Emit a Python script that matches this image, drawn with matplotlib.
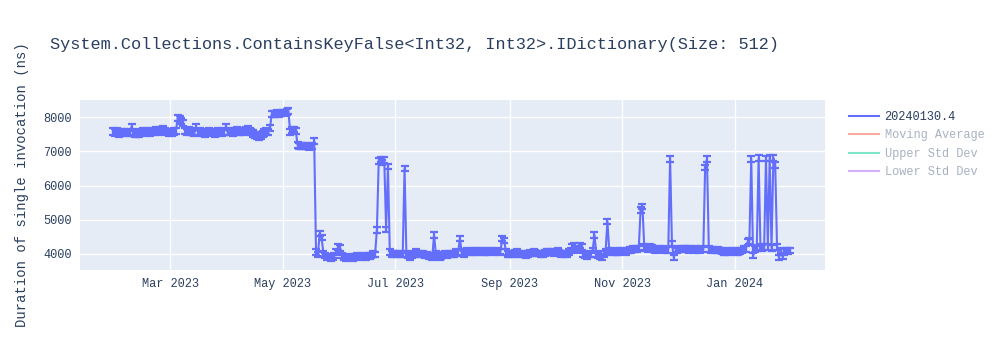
import matplotlib
matplotlib.use("Agg")
import matplotlib.pyplot as plt
import matplotlib.dates as mdates
from matplotlib.lines import Line2D
import numpy as np
import pandas as pd

# daily benchmark results (ns), one list per month
jan23 = [7580, 7550, 7600]  # starts Jan 29
feb23 = [7520, 7560, 7540, 7570, 7530, 7560, 7540, 7720, 7550, 7500,
         7520, 7510, 7560, 7580, 7540, 7600, 7570, 7550, 7600, 7580,
         7620, 7590, 7560, 7610, 7640, 7600, 7570, 7550]
mar23 = [7560, 7540, 7580, 7600, 7980, 7950, 7880, 7820, 7600, 7560,
         7620, 7560, 7580, 7540, 7700, 7560, 7580, 7530, 7550, 7520,
         7560, 7580, 7540, 7560, 7520, 7550, 7580, 7560, 7540, 7580, 7700]
apr23 = [7570, 7560, 7590, 7550, 7600, 7620, 7580, 7560, 7600, 7580,
         7620, 7640, 7600, 7560, 7520, 7480, 7450, 7420, 7460, 7500,
         7550, 7600, 7560, 7680, 8090, 8100, 8080, 8110, 8100, 8120]
may23 = [8130, 8110, 8150, 8180, 7560, 7620, 7640, 7600, 7180, 7160,
         7150, 7160, 7140, 7150, 7130, 7140, 7150, 7300, 4050, 3980,
         4600, 4480, 4020, 3950, 3900, 3920, 3880, 3900, 3950, 4050, 4200]
jun23 = [4180, 3950, 3900, 3880, 3900, 3920, 3900, 3880, 3920, 3940,
         3920, 3900, 3950, 3930, 3900, 3960, 3940, 3950, 4000, 3980,
         4700, 6720, 6760, 6680, 6740, 4720, 6550, 4050, 4000, 4020]
jul23 = [4000, 3980, 4020, 4000, 3980, 6500, 4000, 3950, 3900, 3950,
         4000, 4050, 4000, 3980, 4020, 4000, 3950, 3980, 3920, 3950,
         3900, 4550, 4000, 3950, 3900, 3920, 3980, 4000, 3950, 4000, 4020]
aug23 = [3980, 4000, 4050, 4030, 4450, 4050, 4000, 4050, 4080, 4060,
         4050, 4100, 4080, 4050, 4060, 4100, 4080, 4040, 4060, 4050,
         4080, 4100, 4070, 4060, 4080, 4050, 4070, 4450, 4400, 4050, 4000]
sep23 = [3980, 4020, 4000, 4030, 4050, 4000, 3980, 4020, 4000, 3970,
         4000, 4030, 4020, 4050, 4040, 4010, 4020, 4000, 3990, 4030,
         4050, 4060, 4040, 4050, 4030, 4050, 4080, 4040, 4000, 4020]
oct23 = [4000, 3980, 4050, 4100, 4200, 4250, 4150, 4100, 4250, 4200,
         4000, 3950, 3920, 3980, 4000, 4100, 4550, 4000, 3950, 3920,
         3900, 4000, 4050, 4950, 4100, 4050, 4080, 4060, 4050, 4060, 4080]
nov23 = [4100, 4070, 4050, 4100, 4120, 4100, 4150, 4130, 4150, 4160,
         5290, 5390, 4200, 4180, 4150, 4200, 4180, 4150, 4120, 4100,
         4150, 4130, 4140, 4100, 4120, 4120, 6780, 4300, 3900, 4100]
dec23 = [4120, 4150, 4130, 4160, 4150, 4140, 4120, 4150, 4130, 4120,
         4140, 4100, 4120, 4150, 4130, 6520, 6780, 4150, 4120, 4100,
         4130, 4100, 4110, 4100, 4080, 4060, 4050, 4080, 4060, 4070, 4080]
jan24 = [4100, 4060, 4050, 4080, 4100, 4150, 4150, 4350, 4380, 6780,
         3950, 4150, 4180, 6800, 4200, 4180, 4200, 6790, 4200, 6800,
         4180, 6800, 6600, 4200, 3900, 4100, 3920, 4050, 4100, 4080, 4100]

# (first day, values, std dev in ns)
months = [("2023-01-29", jan23, 90), ("2023-02-01", feb23, 90),
          ("2023-03-01", mar23, 90), ("2023-04-01", apr23, 90),
          ("2023-05-01", may23, 80), ("2023-06-01", jun23, 80),
          ("2023-07-01", jul23, 80), ("2023-08-01", aug23, 80),
          ("2023-09-01", sep23, 80), ("2023-10-01", oct23, 80),
          ("2023-11-01", nov23, 80), ("2023-12-01", dec23, 80),
          ("2024-01-01", jan24, 80)]

series_name = "20240130.4"
legend_names = [series_name, "Moving Average", "Upper Std Dev", "Lower Std Dev"]
title = "System.Collections.ContainsKeyFalse<Int32, Int32>.IDictionary(Size: 512)"

dates = []
values = []
errs = []
for start, vals, sd in months:
    dates.extend(pd.date_range(start, periods=len(vals), freq="D"))
    values.extend(vals)
    errs.extend([sd] * len(vals))

plt.rcParams['font.family'] = ['Liberation Mono', 'DejaVu Sans Mono']
txt = '#2a3f5f'

fig = plt.figure(figsize=(10, 3.5), dpi=100)
ax = fig.add_axes([0.08, 1 - 270 / 350, 0.745, 170 / 350])
ax.set_facecolor('#E5ECF6')
ax.grid(True, color='white', lw=1)
ax.set_axisbelow(True)
for s in ax.spines.values():
    s.set_visible(False)

blue = '#636efa'
ax.errorbar(dates, values, yerr=errs, color=blue, lw=1.5,
            elinewidth=1.6, capsize=2.9, capthick=1.6)

ax.set_xlim(pd.Timestamp("2023-01-11"), pd.Timestamp("2024-02-19"))
ax.set_ylim(3530, 8500)
ax.set_yticks([4000, 5000, 6000, 7000, 8000])
ax.xaxis.set_major_locator(mdates.MonthLocator(bymonth=[1, 3, 5, 7, 9, 11]))
ax.xaxis.set_major_formatter(mdates.DateFormatter('%b %Y'))
ax.tick_params(length=0, labelsize=8.6, labelcolor=txt, pad=6)

ax.set_ylabel("Duration of single invocation (ns)", fontsize=10, color=txt)
ax.yaxis.set_label_coords(-0.068, 0.5)

fig.text(0.05, 1 - 45 / 350, title, fontsize=12.2, color=txt, va='center')

# legend: only the first trace is visible, the others are hidden
faded = ['#f6ab9d', '#80e6ca', '#d5b1fc']
handles = [Line2D([], [], color=blue, lw=1.5)] + \
          [Line2D([], [], color=c, lw=1.5) for c in faded]
leg = fig.legend(handles, legend_names, loc='upper left',
                 bbox_to_anchor=(0.838, 1 - 100 / 350), frameon=False,
                 fontsize=8.6, handlelength=2.5, handletextpad=0.5,
                 labelspacing=0.55)
for i, t in enumerate(leg.get_texts()):
    t.set_color(txt if i == 0 else '#a8b2c1')

fig.savefig("out.png", dpi=100)
